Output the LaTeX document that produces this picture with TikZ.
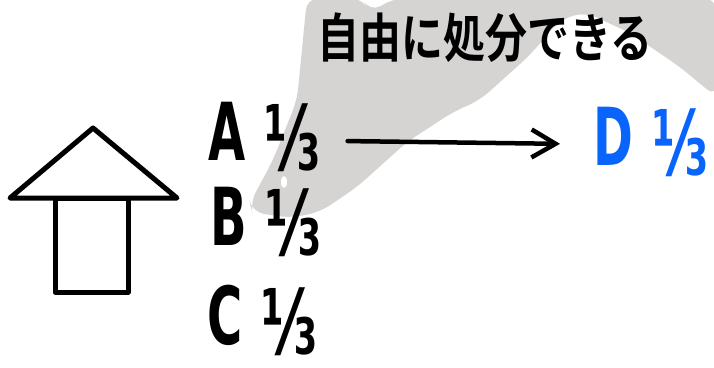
\documentclass[tikz,border=0pt]{standalone}
\usepackage{fontspec}
\setmainfont{DejaVu Sans}
\newfontfamily\jpfont{Noto Sans CJK JP}[BoldFont={* Bold}]
\usetikzlibrary{arrows.meta}
\definecolor{blobgray}{RGB}{214,211,211}
\definecolor{penblue}{RGB}{8,100,250}
\newcommand{\share}[1]{\scalebox{0.6}[1]{\bfseries\fontsize{80}{80}\selectfont #1\hspace{0.4em}\raisebox{-10pt}{\fontsize{90}{90}\selectfont ⅓}}}
\tikzset{
  heir/.style={anchor=base west,inner sep=0pt,text height=48pt,text depth=8pt},
  housepen/.style={line width=5pt},
}

\begin{document}
\begin{tikzpicture}[x=1pt,y=-1pt,>={Straight Barb[length=24pt,width=28pt]},line cap=round,line join=round]
\useasboundingbox (0,0) rectangle (714,367);
% grey blob behind the text
\fill[blobgray,rounded corners=12pt] (307,-2) -- (362,-2) -- (370,12) -- (395,-2) -- (716,-2) -- (716,97) -- (680,67) -- (630,33) -- (585,12) -- (560,20) -- (530,55) -- (480,100) -- (453,112) -- (407,142) -- (357,187) -- (320,212) -- (290,218) -- (252,212) -- (250,203) -- (273,160) -- (297,100) -- cycle;
\fill[white] (284,182) ellipse (3 and 6);
% house
\draw[housepen] (10,198) -- (93,128) -- (177,198) -- cycle;
\draw[housepen] (55,198) rectangle (128,292);
% heirs
\node[heir] (lblA) at (208,160) {\share{A}};
\node[heir] (lblB) at (210,245) {\share{B}};
\node[heir] (lblC) at (207,344) {\share{C}};
\node[heir,text=penblue] (lblD) at (593,165) {\share{D}};
\draw[->,line width=4.5pt,shorten <=27pt,shorten >=33pt] (lblA) -- (lblD);
\node[font=\jpfont\bfseries\fontsize{42}{42}\selectfont] (title) at (485,38) {\scalebox{1}[1.25]{自由に処分できる}};
\end{tikzpicture}
\end{document}
